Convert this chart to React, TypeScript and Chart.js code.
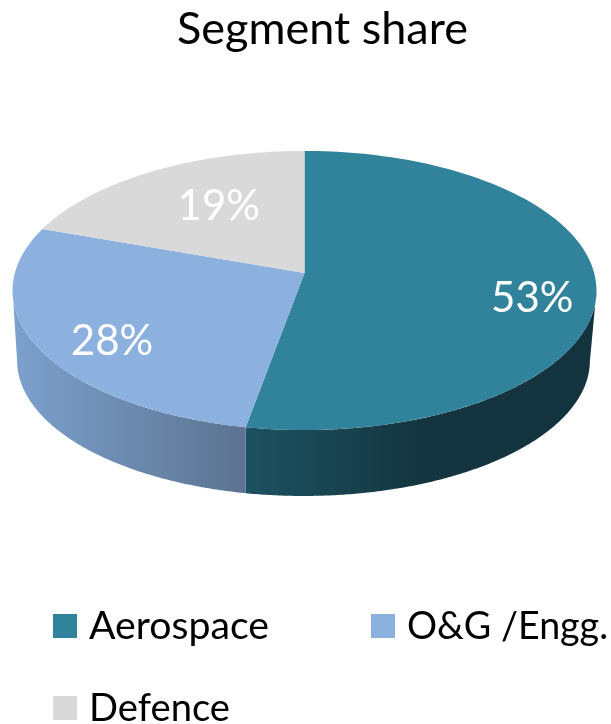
import React, { useEffect, useRef } from "react";
import { Chart, ArcElement, registerables } from "chart.js";

const categories = ["Aerospace", "O&G /Engg.", "Defence"];
const shares = [53, 28, 19];
const faceColors = ["#31829b", "#8cb1df", "#d9d9d9"];
const wallStops: string[][] = [
  ["#1d5261", "#14353f", "#13333e"],
  ["#7ca1cd", "#5c7391"],
  [],
];
const titleText = "Segment share";

// Perspective disc: the layout gives the radius, these constants place the projected circle.
const SPAN_X = 2.069;
const SPAN_Y = 0.981;
const NEARNESS = 0.1254;
const APEX_RISE = 17;
const PERSPECTIVE_BLEND = 0.65;
const WALL_DROP = 70;
const WALL_SHRINK_X = 0.981;
const WALL_SHRINK_Y = 0.971;

const FONT = "Lato, Carlito, Calibri, sans-serif";
const keyTextWidths = [180, 201, 141];
const reachX = [0.78, 0.726, 0.563];
const reachY = [1.35, 0.896, 0.66];

Chart.register(...registerables);

// Rim outline of the disc for a slice angle, with the angle pulled part-way towards perspective.
function project(arc: any, angle: number): [number, number] {
  const u = Math.cos(angle);
  const v = Math.sin(angle);
  const depth = 1 - NEARNESS * v;
  const squeeze = 1 - NEARNESS * NEARNESS;
  const spanX = arc.outerRadius * SPAN_X;
  const spanY = arc.outerRadius * SPAN_Y;
  const seen = Math.atan2(
    v / depth - NEARNESS / squeeze,
    (u / depth) * Math.sqrt(squeeze)
  );
  let delta = seen - angle;
  delta = Math.atan2(Math.sin(delta), Math.cos(delta));
  const t = angle + PERSPECTIVE_BLEND * delta;
  return [
    arc.x + (spanX / Math.sqrt(squeeze)) * Math.cos(t),
    arc.y - APEX_RISE + spanY * (NEARNESS / squeeze + Math.sin(t) / squeeze),
  ];
}

class TiltedArc extends ArcElement {
  static id = "tiltedArc";
  draw(ctx: CanvasRenderingContext2D) {
    const self = this as any;
    const { x, y, startAngle, endAngle, options } = self;
    const steps = Math.ceil((endAngle - startAngle) * 40);
    ctx.save();
    ctx.beginPath();
    ctx.moveTo(x, y - APEX_RISE);
    for (let i = 0; i <= steps; i++) {
      const [px, py] = project(self, startAngle + ((endAngle - startAngle) * i) / steps);
      ctx.lineTo(px, py);
    }
    ctx.closePath();
    ctx.fillStyle = options.backgroundColor;
    ctx.fill();
    ctx.restore();
  }
}
Chart.register(TiltedArc);
(Chart.defaults.datasets as any).pie.dataElementType = "tiltedArc";

// Extruded rim below the front of the disc, one shaded band per slice.
const rimPlugin = {
  id: "rim",
  beforeDatasetsDraw(chart: any) {
    const ctx: CanvasRenderingContext2D = chart.ctx;
    chart.getDatasetMeta(0).data.forEach((arc: any, index: number) => {
      if (wallStops[index].length === 0) return;
      const steps = Math.ceil((arc.endAngle - arc.startAngle) * 120);
      const top: number[][] = [];
      const bottom: number[][] = [];
      const middleY = arc.y;
      for (let i = 0; i <= steps; i++) {
        const [px, py] = project(arc, arc.startAngle + ((arc.endAngle - arc.startAngle) * i) / steps);
        if (py < middleY) continue;
        top.push([px, py]);
        bottom.push([
          arc.x - 1 + (px - arc.x) * WALL_SHRINK_X,
          middleY + WALL_DROP + (py - middleY) * WALL_SHRINK_Y,
        ]);
      }
      if (top.length < 2) return;
      const xs = top.map((p) => p[0]);
      const shade = ctx.createLinearGradient(Math.min(...xs), 0, Math.max(...xs), 0);
      const stops = wallStops[index];
      stops.forEach((c, i) => shade.addColorStop(i / (stops.length - 1), c));
      ctx.save();
      ctx.beginPath();
      top.forEach((p, i) => (i ? ctx.lineTo(p[0], p[1]) : ctx.moveTo(p[0], p[1])));
      [...bottom].reverse().forEach((p) => ctx.lineTo(p[0], p[1]));
      ctx.closePath();
      ctx.fillStyle = shade;
      ctx.fill();
      ctx.restore();
    });
  },
};

// White percentages sitting on the slices.
const valueLabelPlugin = {
  id: "valueLabels",
  afterDatasetsDraw(chart: any) {
    const ctx: CanvasRenderingContext2D = chart.ctx;
    ctx.save();
    ctx.font = `42px ${FONT}`;
    ctx.fillStyle = "#ffffff";
    ctx.textAlign = "center";
    ctx.textBaseline = "middle";
    chart.getDatasetMeta(0).data.forEach((arc: any, index: number) => {
      const mid = (arc.startAngle + arc.endAngle) / 2;
      const apexY = arc.y - APEX_RISE;
      const [edgeX, edgeY] = project(arc, mid);
      const px = arc.x + (edgeX - arc.x) * reachX[index];
      const py = apexY + (edgeY - apexY) * reachY[index];
      ctx.fillText(`${shares[index]}%`, px, py);
    });
    ctx.restore();
  },
};

// Key under the disc: two entries on the first row, one on the second.
const keyPlugin = {
  id: "key",
  afterDraw(chart: any) {
    const ctx: CanvasRenderingContext2D = chart.ctx;
    const columns = [53, 371];
    const rows = [626, 708];
    ctx.save();
    ctx.font = `39.5px ${FONT}`;
    ctx.textBaseline = "middle";
    ctx.textAlign = "left";
    categories.forEach((name, index) => {
      const left = columns[index % 2];
      const mid = rows[Math.floor(index / 2)];
      ctx.fillStyle = faceColors[index];
      ctx.fillRect(left, mid - 12, 24, 24);
      ctx.fillStyle = "#000000";
      ctx.fillText(name, left + 36, mid, keyTextWidths[index]);
    });
    ctx.restore();
  },
};

// The heading sits right of the disc's centre line.
const titleShiftPlugin = {
  id: "titleShift",
  afterLayout(chart: any) {
    if (chart.titleBlock) {
      chart.titleBlock.left += 18;
      chart.titleBlock.right += 18;
    }
  },
};

export default function App() {
  const canvasRef = useRef<HTMLCanvasElement | null>(null);

  useEffect(() => {
    const chart = new Chart(canvasRef.current!, {
      type: "pie",
      data: {
        labels: categories,
        datasets: [{ data: shares, backgroundColor: faceColors, borderWidth: 0 }],
      },
      options: {
        responsive: false,
        animation: false,
        layout: { padding: { left: 12, right: 14, top: 0, bottom: 294 } },
        plugins: {
          legend: { display: false },
          tooltip: { enabled: false },
          title: {
            display: true,
            text: titleText,
            color: "#000000",
            font: { family: FONT, size: 45, weight: "normal" },
            padding: { top: 2, bottom: 94 },
          },
        },
      },
      plugins: [rimPlugin, valueLabelPlugin, keyPlugin, titleShiftPlugin],
    } as any);
    return () => chart.destroy();
  }, []);

  return (
    <canvas
      ref={canvasRef}
      width={611}
      height={724}
      style={{ position: "absolute", left: 0, top: 0, background: "#ffffff" }}
    />
  );
}
